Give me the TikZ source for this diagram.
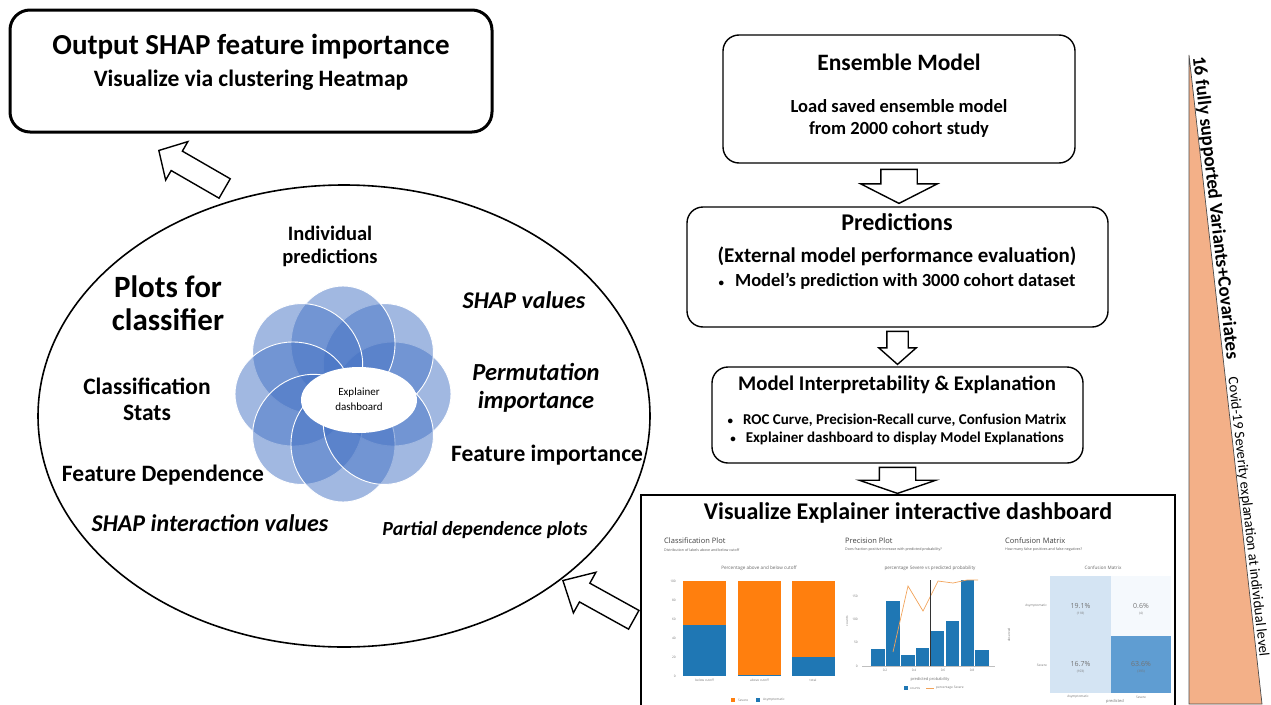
\documentclass[tikz,border=0pt]{standalone}
\usepackage{fontspec}
\setmainfont{Carlito}
\newfontfamily\dashfont{Open Sans}
\usetikzlibrary{shapes.arrows,shapes.geometric,positioning}
\definecolor{petalblue}{HTML}{4472C4}
\definecolor{triorange}{HTML}{F3B088}
\definecolor{barorange}{HTML}{FF7F0E}
\definecolor{barblue}{HTML}{1F77B4}
\definecolor{lineorange}{HTML}{F2A35A}
\definecolor{cmlight}{HTML}{D4E4F3}
\definecolor{cmpale}{HTML}{F5F9FD}
\definecolor{cmmid}{HTML}{5F9DD2}
\newcommand\sz[2]{\fontsize{#1}{#2}\selectfont}
\newcommand\bul{{\sz{11}{11}\textbullet}}

\tikzset{
  bigbox/.style={draw, line width=3pt, rounded corners=20pt},
  flowbox/.style={draw, line width=1.4pt, rounded corners=16pt},
  blockarrow/.style={single arrow, draw, line width=1.4pt, fill=white, inner xsep=0pt},
  petal/.style={fill=petalblue, fill opacity=0.5, draw=white, line width=0.9pt},
  lbl/.style={inner sep=0pt, align=center},
  dhead/.style={inner sep=0pt, anchor=west, text=black!75, font=\dashfont\sz{7.5}{9}},
  dsub/.style={inner sep=0pt, anchor=west, text=black!65, font=\dashfont\sz{3.6}{4}},
  dtitle/.style={inner sep=0pt, text=black!60, font=\dashfont\sz{4.6}{5}},
  dtick/.style={inner sep=0pt, text=black!55, font=\dashfont\sz{3.2}{4}}
}

\begin{document}
\begin{tikzpicture}[x=1pt,y=-1pt]
\useasboundingbox (0,0) rectangle (1271,704);
\clip (0,0) rectangle (1271,704);

%output box
\node[bigbox, minimum width=482, minimum height=122] (outbox) at (251,71) {};
\node[lbl, font=\bfseries\sz{29}{33}] (outtitle) at (251,47) {Output SHAP feature importance};
\node[lbl, font=\bfseries\sz{23.5}{27}] (outsub) at (251,80) {Visualize via clustering Heatmap};

%big ellipse with the plots
\node[draw, ellipse, line width=1.6pt, minimum width=612, minimum height=462] (plots) at (344,416) {};
\foreach \a in {0,45,...,315}{
\draw[petal, rotate around={\a:(343,394)}] (393,394) ellipse [x radius=58pt, y radius=52pt];
}
\node[fill=white, ellipse, minimum width=116, minimum height=66, inner sep=0pt] (core) at (359,400) {};
\node[lbl, font=\sz{11}{15}] (coretext) at (359,399) {Explainer\\dashboard};

\node[lbl, font=\bfseries\sz{31}{33}] (plotsfor) at (168,303) {Plots for\\classifier};
\node[lbl, font=\bfseries\sz{20.5}{23}] (indiv) at (330,246) {Individual\\predictions};
\node[lbl, font=\bfseries\itshape\sz{24}{28}] (shapval) at (524,300) {SHAP values};
\node[lbl, font=\bfseries\itshape\sz{24.5}{28}] (perm) at (536,388) {Permutation\\importance};
\node[lbl, font=\bfseries\sz{23.5}{26}] (clstats) at (147,399) {Classification\\Stats};
\node[lbl, font=\bfseries\sz{23.5}{27}] (featimp) at (547,455) {Feature importance};
\node[lbl, font=\bfseries\sz{23.5}{27}] (featdep) at (163,475) {Feature Dependence};
\node[lbl, font=\bfseries\itshape\sz{24}{28}] (shapint) at (210,523) {SHAP interaction values};
\node[lbl, font=\bfseries\itshape\sz{20}{24}] (pdp) at (485,530) {Partial dependence plots};

%right column
\node[flowbox, minimum width=352, minimum height=128] (ens) at (899,99) {};
\node[lbl, font=\bfseries\sz{23.5}{27}] (enstitle) at (899,62) {Ensemble Model};
\node[lbl, font=\bfseries\sz{18.5}{22}] (enstext) at (899,118) {Load saved ensemble model\\from 2000 cohort study};

\node[flowbox, minimum width=421, minimum height=120] (pred) at (897.5,267) {};
\node[lbl, font=\bfseries\sz{24}{28}] (predtitle) at (897,222) {Predictions};
\node[lbl, font=\bfseries\sz{21}{25}] (predsub) at (897,256) {(External model performance evaluation)};
\node[lbl, font=\bfseries\sz{18.5}{22}] (predtext) at (897,281) {\bul\hspace{11pt}Model’s prediction with 3000 cohort dataset};

\node[flowbox, minimum width=371, minimum height=96] (interp) at (897.5,415) {};
\node[lbl, font=\bfseries\sz{20.8}{24}] (interptitle) at (897,385) {Model Interpretability \& Explanation};
\node[lbl, font=\bfseries\sz{15}{18}] (interptext) at (897,429) {\bul\hspace{10pt}ROC Curve, Precision-Recall curve, Confusion Matrix\\\bul\hspace{10pt}Explainer dashboard to display Model Explanations};

%block arrows
\node[blockarrow, rotate=-90, anchor=tail, minimum height=34, inner ysep=17.5pt,
  single arrow head extend=20pt, single arrow tip angle=126] (arr1) at ([yshift=-5pt]ens.south) {};
\node[blockarrow, rotate=-90, anchor=tail, minimum height=33, inner ysep=10pt,
  single arrow head extend=8pt, single arrow tip angle=97] (arr2) at ([yshift=-3pt]pred.south) {};
\node[blockarrow, rotate=-90, anchor=tail, minimum height=26, inner ysep=17.5pt,
  single arrow head extend=20pt, single arrow tip angle=142] (arr3) at ([yshift=-3pt]interp.south) {};
\node[blockarrow, rotate=150, anchor=tip, minimum height=76, inner ysep=10.5pt,
  single arrow head extend=11pt, single arrow tip angle=94] (arr4) at (158,150) {};
\node[blockarrow, rotate=151, anchor=tip, minimum height=81, inner ysep=10pt,
  single arrow head extend=12.5pt, single arrow tip angle=86] (arr5) at (562,580) {};

%dashboard
\node[draw, line width=2pt, minimum width=534, minimum height=230, inner sep=0pt] (dash) at (908,610) {};
\node[lbl, font=\bfseries\sz{24}{28}] (dashtitle) at (908,513) {Visualize Explainer interactive dashboard};

% classification plot
\node[dhead] (clshead) at (664,541) {Classification Plot};
\node[dsub] (clssub) at (664,550) {Distribution of labels above and below cutoff};
\node[dtitle] (clstitle) at (759,568) {Percentage above and below cutoff};
\foreach \v in {0,20,...,100}{
\node[dtick, anchor=east] at (676,676-0.95*\v) {\v};
}
\foreach \x/\b in {683/53.4,738/1.5,792/19.7}{
\fill[barblue] (\x,676) rectangle (\x+43,676-0.95*\b);
\fill[barorange] (\x,676-0.95*\b) rectangle (\x+43,581);
}
\node[dtick] at (704.5,680) {below cutoff};
\node[dtick] at (759.5,680) {above cutoff};
\node[dtick] at (813,680) {total};
\fill[barorange] (731,698) rectangle +(4,4);
\node[dtick, anchor=west] at (738,700) {Severe};
\fill[barblue] (756,698) rectangle +(4,4);
\node[dtick, anchor=west] at (763,700) {Asymptomatic};

% precision plot
\node[dhead] (prechead) at (845,541) {Precision Plot};
\node[dsub] (precsub) at (845,550) {Does fraction positive increase with predicted probability?};
\node[dtitle] (prectitle) at (930,568) {percentage Severe vs predicted probability};
\draw[black!25, line width=0.3pt] (862,666) -- (995,666);
\foreach \h [count=\i from 0] in {17,65,11,18,35.5,45.5,86,16}{
\fill[barblue] (871.4+\i*14.85,666) rectangle +(13.4,-\h);
}
\draw[lineorange, line width=0.7pt] (893,652) -- (908,586) -- (923,611) -- (938,581) -- (953,583) -- (967,580) -- (978,580);
\draw[black!80, line width=0.6pt] (930,580) -- (930,666);
\foreach \v/\y in {0/666,50/642,100/619,150/596}{
\node[dtick, anchor=east] at (858,\y) {\v};
}
\foreach \v/\x in {0.2/885,0.4/914,0.6/943,0.8/972}{
\node[dtick] at (\x,670) {\v};
}
\node[dtick, rotate=90] at (847,621) {counts};
\node[dtick, font=\dashfont\sz{4}{5}] at (930,679) {predicted probability};
\fill[barblue] (904,686) rectangle +(4,4);
\node[dtick, anchor=west] at (910,688) {counts};
\draw[lineorange, line width=0.6pt] (926,688) -- (934,688);
\node[dtick, anchor=west] at (936,688) {percentage Severe};

% confusion matrix
\node[dhead] (cmhead) at (1005,541) {Confusion Matrix};
\node[dsub] (cmsub) at (1005,550) {How many false positives and false negatives?};
\node[dtitle] (cmtitle) at (1103,568) {Confusion Matrix};
\fill[cmlight] (1050,575.5) rectangle (1111,693);
\fill[cmpale] (1111,575.5) rectangle (1171,635.5);
\fill[cmmid] (1111,635.5) rectangle (1171,693);
\node[dtick, font=\dashfont\sz{7}{8}, text=black!55] at (1080.5,606) {19.1\%};
\node[dtick] at (1080.5,614) {(118)};
\node[dtick, font=\dashfont\sz{7}{8}, text=black!55] at (1141,606) {0.6\%};
\node[dtick] at (1141,614) {(4)};
\node[dtick, font=\dashfont\sz{7}{8}, text=black!55] at (1080.5,664) {16.7\%};
\node[dtick] at (1080.5,672) {(103)};
\node[dtick, font=\dashfont\sz{7}{8}, text=black!55] at (1141,664) {63.6\%};
\node[dtick] at (1141,672) {(393)};
\node[dtick, anchor=east] at (1047,606) {Asymptomatic};
\node[dtick, anchor=east] at (1047,665) {Severe};
\node[dtick, rotate=90] at (1009,635) {observed};
\node[dtick] at (1078,697) {Asymptomatic};
\node[dtick] at (1141,697) {Severe};
\node[dtick, font=\dashfont\sz{4}{5}] at (1115,701.5) {predicted};

%side triangle
\draw[fill=triorange, draw=black!70, line width=0.7pt] (1189,55) -- (1262,704) -- (1189,704) -- cycle;
\path (1189,55) -- (1262,704)
  node[pos=0.003, sloped, anchor=south west, inner sep=0.5pt, font=\bfseries\sz{19}{21}] (varlbl) {16 fully supported Variants+Covariates}
  node[pos=0.497, sloped, anchor=south west, inner sep=0.5pt, font=\sz{14.5}{16}] (covlbl) {Covid-19 Severity explanation at individual level};
\end{tikzpicture}
\end{document}
